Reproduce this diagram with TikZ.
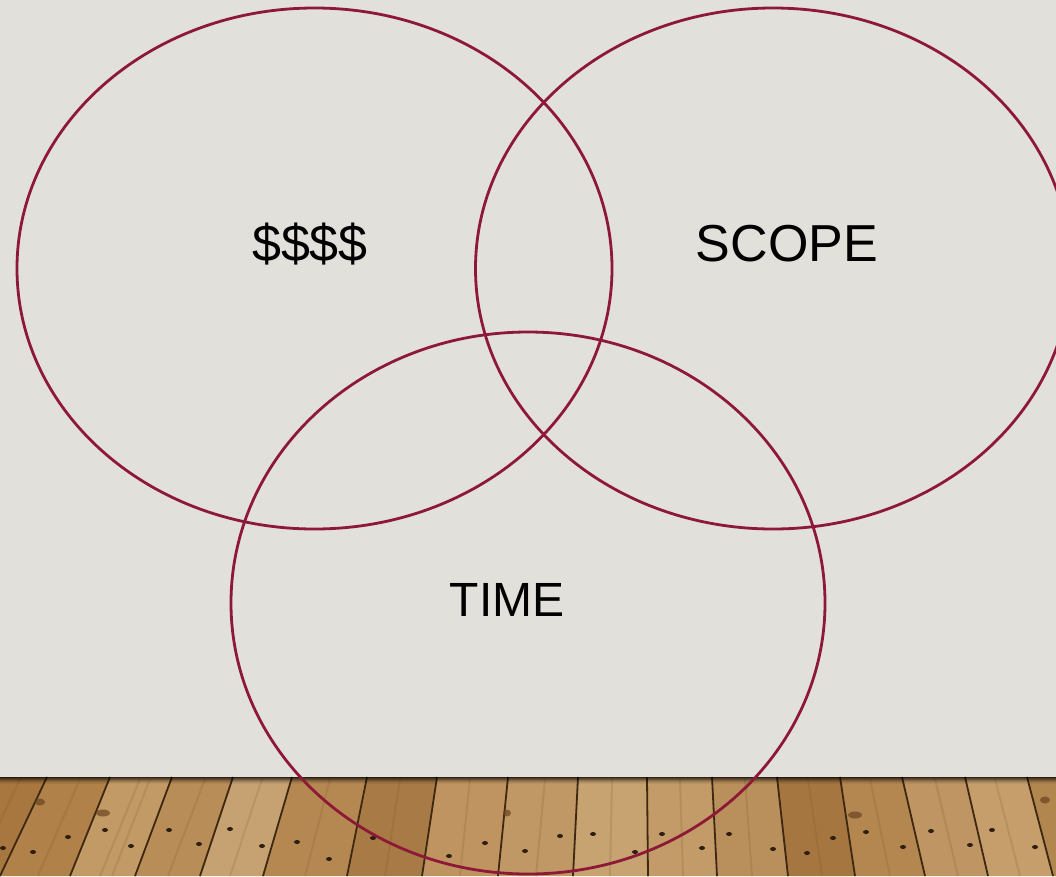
\documentclass[tikz,border=0pt]{standalone}
\usepackage{fontspec}
\setmainfont{Liberation Sans}
\definecolor{wall}{HTML}{E2E0DB}
\definecolor{venn}{HTML}{8E1838}
\definecolor{seamc}{HTML}{3E2812}
\definecolor{nailc}{HTML}{2E1E10}
\definecolor{knotc}{HTML}{6A4420}
\definecolor{grainc}{HTML}{7A5228}
\definecolor{p0}{HTML}{A8773F}
\definecolor{p1}{HTML}{B08148}
\definecolor{p2}{HTML}{C29A66}
\definecolor{p3}{HTML}{B88D58}
\definecolor{p4}{HTML}{C6A273}
\definecolor{p5}{HTML}{B58852}
\definecolor{p6}{HTML}{A87A45}
\definecolor{p7}{HTML}{C09460}
\definecolor{p8}{HTML}{BF9866}
\definecolor{p9}{HTML}{C7A371}
\definecolor{p10}{HTML}{C29B68}
\definecolor{p11}{HTML}{B98F5B}
\definecolor{p12}{HTML}{A57640}
\definecolor{p13}{HTML}{B48650}
\definecolor{p14}{HTML}{BE9563}
\definecolor{p15}{HTML}{C59E6C}
\definecolor{p16}{HTML}{B2864F}
\begin{document}
\begin{tikzpicture}[x=1pt,y=-1pt,
  ring/.style={draw=venn, line width=2.8pt},
  vlabel/.style={font=\fontsize{52}{60}\selectfont, text=black, inner sep=0pt},
  seam/.style={draw=seamc, line width=1.8pt},
  nail/.style={fill=nailc},
  knot/.style={fill=knotc, opacity=0.7},
  grain/.style={draw=grainc, line width=2pt, opacity=0.18}]
\useasboundingbox (0,0) rectangle (1056,876);
\clip (0,0) rectangle (1056,876);
% wall
\fill[wall] (0,0) rectangle (1056,777);
% floor planks
\foreach \ta/\ba/\tb/\bb/\col in {
  -15/-70/47/0/p0, 47/0/110/70/p1, 110/70/172/135/p2, 172/135/233/200/p3,
  233/200/292/263/p4, 292/263/367/347/p5, 367/347/437/422/p6, 437/422/508/498/p7,
  508/498/578/573/p8, 578/573/647/648/p9, 647/648/712/717/p10, 712/717/777/788/p11,
  777/788/840/855/p12, 840/855/902/925/p13, 902/925/965/988/p14, 965/988/1027/1053/p15,
  1027/1053/1090/1118/p16}
  \fill[\col] (\ta,777) -- (\tb,777) -- (\bb,876) -- (\ba,876) -- cycle;
% grain streaks
\foreach \t/\b in {20/-25, 80/38, 140/100, 150/112, 205/168, 262/230, 330/305,
  400/385, 470/460, 545/536, 612/610, 680/683, 745/752, 808/822, 870/890,
  935/958, 995/1020, 1060/1085}
  \draw[grain] (\t,779) -- (\b,876);
% seams
\foreach \t/\b in {47/0, 110/70, 172/135, 233/200, 292/263, 367/347, 437/422,
  508/498, 578/573, 647/648, 712/717, 777/788, 840/855, 902/925, 965/988, 1027/1053}
  \draw[seam] (\t,777) -- (\b,876);
% knots
\foreach \x/\y/\r in {103/813/7, 40/802/5, 507/813/4, 855/815/7, 1045/800/5}
  \fill[knot] (\x,\y) ellipse [x radius=\r, y radius=3.5];
% nails
\foreach \x/\y in {68/837, 33/852, 3/848, 105/830, 131/846, 169/830, 199/844,
  230/829, 262/846, 297/842, 329/859, 373/838, 485/843, 449/856, 525/851,
  560/836, 593/834, 635/852, 662/834, 702/848, 729/834, 773/849, 833/838,
  807/853, 866/832, 903/847, 931/831, 970/845, 992/830, 1035/847}
  \fill[nail] (\x,\y) ellipse [x radius=3, y radius=2];
% shadow under wall
\foreach \k/\o in {0/0.75, 1/0.6, 2/0.45, 3/0.32, 4/0.2, 5/0.1, 6/0.05}
  \fill[black, opacity=\o] (0,777+\k) rectangle (1056,778+\k);
% venn circles
\coordinate (money) at (314.5,268.5);
\coordinate (scope) at (773,268.5);
\coordinate (time) at (528,603);
\draw[ring] (money) ellipse [x radius=297.5, y radius=260.5];
\draw[ring] (scope) ellipse [x radius=297.5, y radius=260.5];
\draw[ring] (time) ellipse [x radius=297, y radius=271];
% labels
\node[vlabel] (lmoney) at (310,244) {\$\$\$\$};
\node[vlabel] (lscope) at (787,244) {SCOPE};
\node[vlabel, font=\fontsize{48}{56}\selectfont] (ltime) at (507,600) {TIME};
\end{tikzpicture}
\end{document}
